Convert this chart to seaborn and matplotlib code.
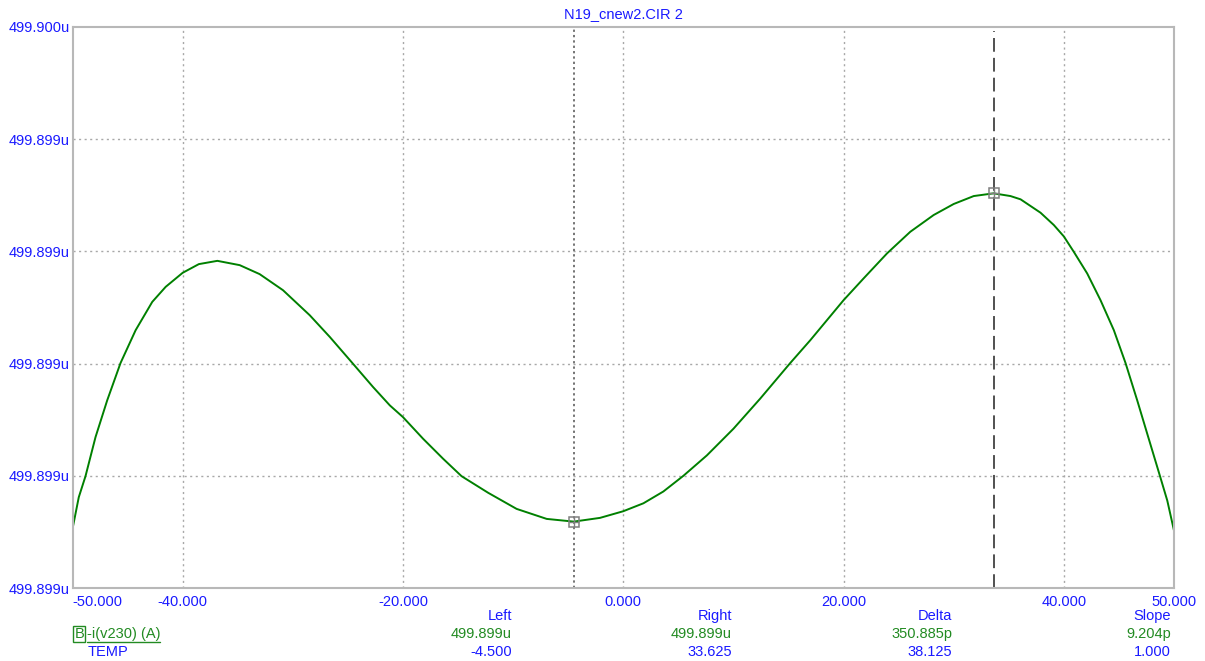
import matplotlib
matplotlib.use("Agg")
import matplotlib.pyplot as plt
import seaborn as sns
import pandas as pd
from matplotlib.lines import Line2D

# ---------------- data ----------------
temp = [-50.0, -49.43, -48.82, -47.91, -46.85, -45.64, -44.27, -42.76, -41.54, -40.0,
        -38.53, -36.85, -34.82, -33.01, -30.89, -28.46, -26.64, -24.67, -22.71, -21.19,
        -20.0, -18.17, -16.35, -14.68, -12.26, -9.68, -6.95, -4.5, -2.11, 0.0,
        1.83, 3.64, 5.46, 7.59, 10.01, 12.43, 15.16, 16.98, 18.49, 20.0,
        21.82, 23.95, 26.06, 28.18, 30.00, 31.82, 33.625, 35.15, 36.07, 37.88,
        39.09, 40.0, 40.90, 42.12, 43.33, 44.54, 45.60, 46.66, 47.57, 48.72,
        49.39, 50.0]
current_uA = [499.8994632, 499.8994971, 499.8995196, 499.8995614, 499.8996007, 499.8996406,
              499.8996757, 499.8997060, 499.8997221, 499.8997371, 499.8997464, 499.8997499,
              499.8997453, 499.8997357, 499.8997185, 499.8996917, 499.8996685, 499.8996417,
              499.8996149, 499.8995953, 499.8995828, 499.8995596, 499.8995382, 499.8995196,
              499.8995018, 499.8994846, 499.8994739, 499.8994710, 499.8994750, 499.8994821,
              499.8994906, 499.8995032, 499.8995200, 499.8995418, 499.8995704, 499.8996025,
              499.8996406, 499.8996650, 499.8996864, 499.8997078, 499.8997311, 499.8997579,
              499.8997810, 499.8997989, 499.8998107, 499.8998192, 499.8998221, 499.8998192,
              499.8998157, 499.8998014, 499.8997882, 499.8997760, 499.8997596, 499.8997364,
              499.8997078, 499.8996757, 499.8996406, 499.8996007, 499.8995650, 499.8995200,
              499.8994935, 499.8994614]

x_ticks = [-50, -40, -20, 0, 20, 40, 50]
x_tick_labels = ["-50.000", "-40.000", "-20.000", "0.000", "20.000", "40.000", "50.000"]
y_ticks = [499.8994, 499.89952, 499.89964, 499.89976, 499.89988, 499.9000]
y_tick_labels = ["499.899u", "499.899u", "499.899u", "499.899u", "499.899u", "499.900u"]

cursor_left_x = -4.5
cursor_left_y = 499.8994710
cursor_right_x = 33.625
cursor_right_y = 499.8998221

title = "N19_cnew2.CIR 2"
col_headers = ["Left", "Right", "Delta", "Slope"]
trace_values = ["499.899u", "499.899u", "350.885p", "9.204p"]
temp_values = ["-4.500", "33.625", "38.125", "1.000"]
trace_name = "-i(v230) (A)"
x_var_name = "TEMP"

# ---------------- style ----------------
sns.set_style("white")
plt.rcParams["font.family"] = ["Liberation Sans", "DejaVu Sans"]
BLUE = "#1a1aff"
GREEN = "#008000"
TGREEN = "#228b22"
FS = 10.5

W, H = 1205, 661
fig = plt.figure(figsize=(W / 100, H / 100), dpi=100)
L, R, T, B = 72.5, 1174, 27, 588
ax = fig.add_axes([L / W, (H - B) / H, (R - L) / W, (B - T) / H])

df = pd.DataFrame({"TEMP": temp, "I": current_uA})
sns.lineplot(data=df, x="TEMP", y="I", color=GREEN, linewidth=1.4, ax=ax, legend=False)

ax.set_xlim(-50, 50)
ax.set_ylim(y_ticks[0], y_ticks[-1])
ax.set_xlabel("")
ax.set_ylabel("")

# grid
for xv in x_ticks[1:-1]:
    ax.axvline(xv, color="#a8a8a8", linestyle=(0, (1.5, 2.5)), linewidth=1, zorder=0)
for yv in y_ticks[1:-1]:
    ax.axhline(yv, color="#a8a8a8", linestyle=(0, (1.5, 2.5)), linewidth=1, zorder=0)

for s in ax.spines.values():
    s.set_color("#b8b8b8")
    s.set_linewidth(1.5)

ax.set_xticks(x_ticks)
ax.set_xticklabels(x_tick_labels)
ax.set_yticks(y_ticks)
ax.set_yticklabels(y_tick_labels)
ax.tick_params(axis="both", length=0, labelsize=FS, labelcolor=BLUE)
ax.tick_params(axis="x", pad=5)
ax.tick_params(axis="y", pad=2)
xl = ax.get_xticklabels()
xl[0].set_horizontalalignment("left")

# cursors
ax.axvline(cursor_left_x, color="#505050", linestyle=(0, (1.5, 2)), linewidth=1.1, zorder=1)
ax.axvline(cursor_right_x, ymax=0.992, color="#202020", linestyle=(0, (9, 4)), linewidth=1.1, zorder=1)
for cx, cy in [(cursor_left_x, cursor_left_y), (cursor_right_x, cursor_right_y)]:
    ax.plot([cx], [cy], marker="s", markersize=7, mfc="none", mec="#808080", mew=1.1, zorder=4)
    ax.plot([cx], [cy], marker="+", markersize=7, color="#808080", mew=1.0, zorder=4)

# title
fig.text(623 / W, 1 - 14 / H, title, color=BLUE, fontsize=FS, ha="center", va="center")

# readout rows
col_right = [512, 732, 952, 1171]
for xr, h, tv, mv in zip(col_right, col_headers, trace_values, temp_values):
    fig.text(xr / W, 1 - 616 / H, h, color=BLUE, fontsize=FS, ha="right", va="center")
    fig.text(xr / W, 1 - 634 / H, tv, color=TGREEN, fontsize=FS, ha="right", va="center")
    fig.text(xr / W, 1 - 652 / H, mv, color=BLUE, fontsize=FS, ha="right", va="center")

fig.text(74.5 / W, 1 - 634 / H, "B", color=TGREEN, fontsize=FS, ha="left", va="center",
         bbox=dict(boxstyle="square,pad=0.08", fc="none", ec=TGREEN, lw=1))
fig.text(87 / W, 1 - 634 / H, trace_name, color=TGREEN, fontsize=FS, ha="left", va="center")
fig.add_artist(Line2D([87 / W, 160 / W], [1 - 642 / H, 1 - 642 / H], color=TGREEN, lw=1))
fig.text(88 / W, 1 - 652 / H, x_var_name, color=BLUE, fontsize=FS, ha="left", va="center")

fig.savefig("out.png", dpi=100)
